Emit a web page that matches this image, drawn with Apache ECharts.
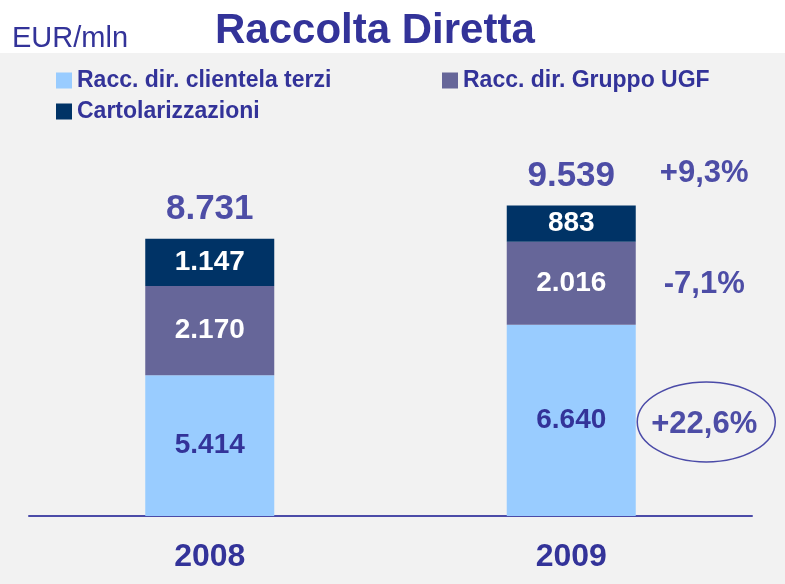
<!DOCTYPE html>
<html>
<head>
<meta charset="utf-8">
<title>Raccolta Diretta</title>
<script src="https://cdn.jsdelivr.net/npm/echarts@6/dist/echarts.min.js"></script>
<style>
  html, body { margin: 0; padding: 0; background: #f2f2f2; }
  #main { width: 785px; height: 584px; }
</style>
</head>
<body>
<div id="main"></div>
<script>
// dati (EUR/mln)
var years = ['2008', '2009'];
var clientelaTerzi = [5414, 6640];
var gruppoUGF = [2170, 2016];
var cartolarizzazioni = [1147, 883];
var totals = [8731, 9539];
// variazioni 2009 vs 2008: clientela terzi, gruppo UGF, totale
var changes2009 = [22.6, -7.1, 9.3];

var FONT = '"Liberation Sans", Arial, sans-serif';
var BLUE_TXT = '#333399';
var SOFT_TXT = '#4d4da6';

function fmt(v) {
  return String(v).replace(/\B(?=(\d{3})+(?!\d))/g, '.');
}
function fmtPct(v) {
  return (v > 0 ? '+' : '') + v.toFixed(1).replace('.', ',') + '%';
}

var chart = echarts.init(document.getElementById('main'));

function segLabel(color) {
  return {
    show: true,
    position: 'inside',
    fontFamily: FONT,
    fontSize: 28,
    fontWeight: 'bold',
    color: color,
    formatter: function (p) { return fmt(p.value); }
  };
}

chart.setOption({
  animation: false,
  backgroundColor: '#f2f2f2',
  title: [
    {
      text: 'EUR/mln', left: 12, top: 24, padding: 0,
      textStyle: { fontFamily: FONT, fontSize: 29, fontWeight: 'normal', color: BLUE_TXT, lineHeight: 29 }
    },
    {
      text: 'Raccolta Diretta', left: 215, top: 10, padding: 0,
      textStyle: { fontFamily: FONT, fontSize: 42, fontWeight: 'bold', color: BLUE_TXT, lineHeight: 42 }
    }
  ],
  legend: [
    {
      data: ['Racc. dir. clientela terzi', 'Racc. dir. Gruppo UGF'],
      left: 56, top: 69, padding: 0,
      icon: 'rect', itemWidth: 16, itemHeight: 16, itemGap: 65,
      selectedMode: false,
      textStyle: { fontFamily: FONT, fontSize: 23, fontWeight: 'bold', color: BLUE_TXT, width: 300, lineHeight: 23 }
    },
    {
      data: ['Cartolarizzazioni'],
      left: 56, top: 100, padding: 0,
      icon: 'rect', itemWidth: 16, itemHeight: 16,
      selectedMode: false,
      textStyle: { fontFamily: FONT, fontSize: 23, fontWeight: 'bold', color: BLUE_TXT, lineHeight: 23 }
    }
  ],
  grid: { left: 29, right: 33, top: 104, bottom: 68 },
  xAxis: {
    type: 'category',
    data: years,
    axisLine: { lineStyle: { color: '#4b4ba8', width: 2 } },
    axisTick: { show: false },
    axisLabel: { fontFamily: FONT, fontSize: 32, fontWeight: 'bold', color: BLUE_TXT, margin: 25 }
  },
  yAxis: {
    type: 'value',
    min: 0,
    max: 12000,
    show: false,
    splitLine: { show: false },
    // la parte bassa delle barre è compressa nel grafico originale
    breaks: [{ start: 1000, end: 3000, gap: 0 }],
    breakArea: { show: false }
  },
  series: [
    {
      name: 'Racc. dir. clientela terzi',
      type: 'bar', stack: 'tot', barWidth: 129,
      itemStyle: { color: '#99ccff' },
      label: segLabel(BLUE_TXT),
      data: clientelaTerzi
    },
    {
      name: 'Racc. dir. Gruppo UGF',
      type: 'bar', stack: 'tot',
      itemStyle: { color: '#666699' },
      label: segLabel('#ffffff'),
      data: gruppoUGF
    },
    {
      name: 'Cartolarizzazioni',
      type: 'bar', stack: 'tot',
      itemStyle: { color: '#003366' },
      label: segLabel('#ffffff'),
      data: cartolarizzazioni
    },
    {
      name: 'Totale',
      type: 'scatter',
      symbolSize: 0,
      silent: true,
      itemStyle: { opacity: 1 },
      label: {
        show: true, position: 'top', distance: 12,
        fontFamily: FONT, fontSize: 35, fontWeight: 'bold', color: SOFT_TXT, lineHeight: 35,
        formatter: function (p) { return fmt(p.value[1]); }
      },
      data: totals.map(function (t, i) { return [i, t]; })
    }
  ]
});

// etichette delle variazioni accanto alla barra 2009
var ends = [
  [0, clientelaTerzi[1]],
  [clientelaTerzi[1], clientelaTerzi[1] + gruppoUGF[1]]
];
var graphics = [
  { type: 'rect', z: -10, shape: { x: 0, y: 0, width: 785, height: 53 }, style: { fill: '#ffffff' }, silent: true }
];
var centers = ends.map(function (e) {
  var a = chart.convertToPixel({ gridIndex: 0 }, [1, e[0]]);
  var b = chart.convertToPixel({ gridIndex: 0 }, [1, e[1]]);
  return [a[0], (a[1] + b[1]) / 2];
});
var top2009 = chart.convertToPixel({ gridIndex: 0 }, [1, totals[1]]);
centers.push([top2009[0], top2009[1] - 32]);
var dy = [4, 1, 0];

centers.forEach(function (c, i) {
  graphics.push({
    type: 'text',
    x: c[0] + 133, y: c[1] + dy[i],
    style: {
      text: fmtPct(changes2009[i]),
      font: 'bold 31px ' + FONT,
      fill: SOFT_TXT,
      align: 'center', verticalAlign: 'middle'
    }
  });
});
graphics.push({
  type: 'ellipse',
  shape: { cx: centers[0][0] + 135, cy: centers[0][1] + 1.5, rx: 69, ry: 40 },
  style: { fill: 'none', stroke: '#4b4ba8', lineWidth: 1.5 }
});

chart.setOption({ graphic: graphics });
</script>
</body>
</html>
